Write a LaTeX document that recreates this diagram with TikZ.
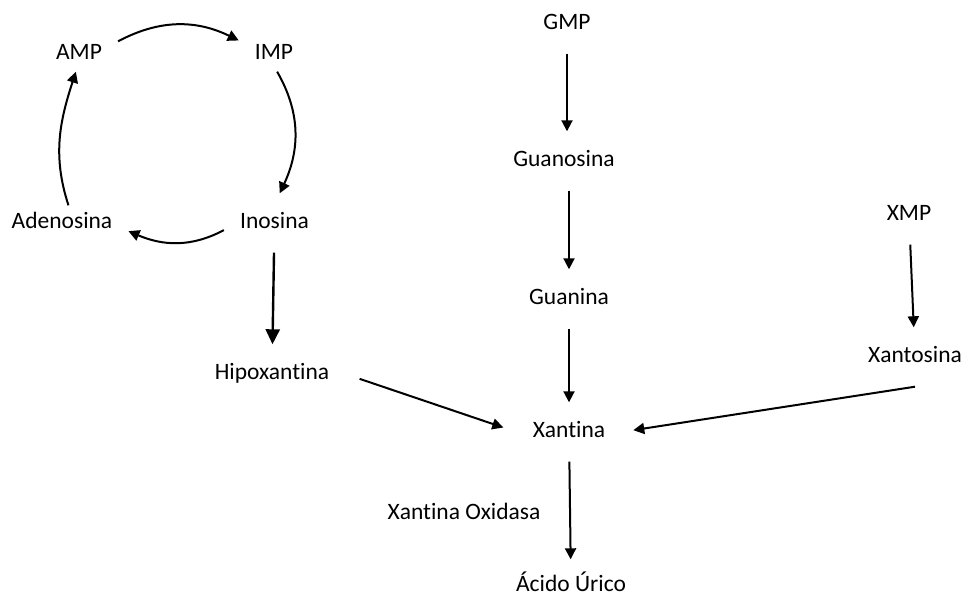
\documentclass[tikz,border=0pt]{standalone}
\usepackage{fontspec}
\setmainfont[Ligatures=NoCommon]{Carlito}
\usetikzlibrary{arrows.meta}

\tikzset{
  mol/.style={inner xsep=16pt,inner ysep=20pt,text height=15pt,text depth=4pt,
    font=\fontsize{23.5}{28}\selectfont},
  ciclo/.style={mol,inner ysep=8pt},
  flecha/.style={line width=2pt,-{Triangle[length=11pt,width=11pt]}},
  gruesa/.style={line width=2.4pt,-{Triangle[length=15pt,width=14pt]}}
}

\begin{document}
\begin{tikzpicture}[x=1pt,y=1pt]
\useasboundingbox (0,0) rectangle (965,-597);
%\draw[help lines,step=50] (0,0) grid (965,-597);
% ciclo de las purinas
\node[ciclo] (amp) at (79,-54) {AMP};
\node[ciclo] (imp) at (274,-54) {IMP};
\node[mol] (ino) at (274.5,-223) {Inosina};
\node[ciclo] (ade) at (62,-223) {Adenosina};
\node[mol] (hip) at (272,-374) {Hipoxantina};
% columna de la guanina
\node[mol] (gmp) at (567,-24) {GMP};
\node[mol] (guo) at (564,-161) {Guanosina};
\node[mol] (gua) at (569,-299) {Guanina};
\node[mol] (xan) at (569,-432) {Xantina};
\node[mol] (oxi) at (464,-514) {Xantina Oxidasa};
\node[mol] (acu) at (571,-586) {Ácido Úrico};
% columna del XMP
\node[mol] (xmp) at (909,-215) {XMP};
\node[mol] (xao) at (915,-357) {Xantosina};

\draw[flecha] (amp.18) to[out=28,in=154] (imp.159);
\draw[flecha] (imp.-80) to[out=-60,in=65] (ino.80);
\draw[flecha] (ino.188) to[out=208,in=-23] (ade.-7);
\draw[flecha] (ade.70) to[out=108,in=252] (amp.-100);
\draw[gruesa] (ino) -- (hip);
\draw[flecha] (gmp) -- (gmp |- guo.north);
\draw[flecha] (gua |- guo.south) -- (gua);
\draw[flecha] (gua) -- (xan);
\draw[flecha] (xmp) -- (xao);
\draw[flecha,shorten <=15pt,shorten >=14pt] (hip.east) -- (xan.west);
\draw[flecha,shorten >=12pt] (xao.south) -- (xan.east);
\draw[flecha,shorten >=-3pt] (xan) -- (acu);
\end{tikzpicture}
\end{document}
